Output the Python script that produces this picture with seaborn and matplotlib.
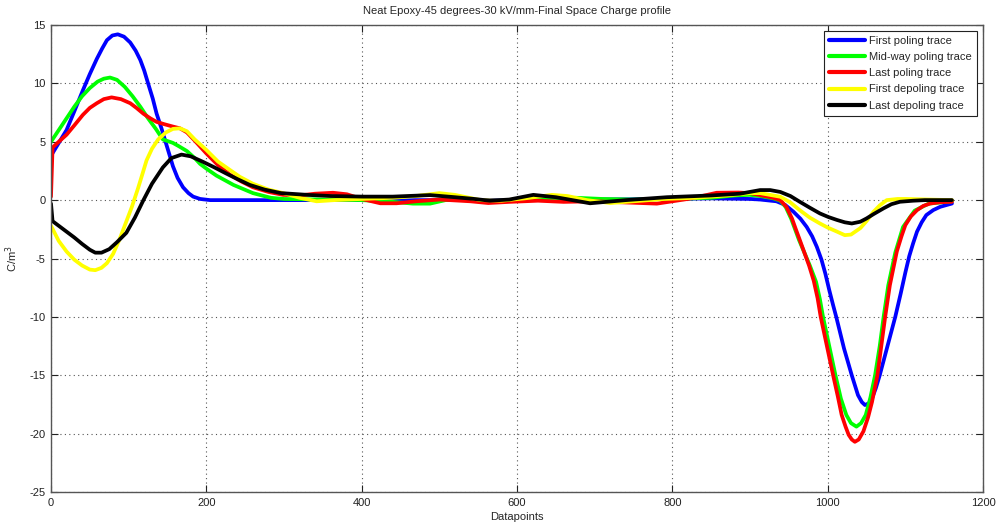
import matplotlib
matplotlib.use("Agg")
import matplotlib.pyplot as plt
import seaborn as sns
import pandas as pd

# Space charge profiles: (datapoint, C/m^3) pairs for each trace
first_poling_x = [0, 10, 20, 30, 41, 50, 59, 66, 72, 79, 86, 94, 102, 109, 115, 120, 125, 131, 136, 142,
                  147, 152, 157, 163, 170, 177, 183, 192, 205, 250, 300, 400, 500, 600, 700, 800, 850,
                  900, 913, 934, 945, 956, 965, 973, 980, 986, 992, 997, 1002, 1007, 1011, 1021, 1031,
                  1039, 1044, 1048, 1053, 1057, 1062, 1067, 1077, 1087, 1094, 1100, 1105, 1110, 1115,
                  1121, 1127, 1136, 1145, 1160]
first_poling_y = [3.8, 4.9, 6.0, 7.6, 9.4, 10.8, 12.1, 13.0, 13.7, 14.1, 14.2, 14.0, 13.5, 12.8, 12.0, 11.1,
                  10.0, 8.7, 7.4, 6.2, 5.1, 4.0, 2.9, 1.9, 1.1, 0.6, 0.3, 0.1, 0.0, 0.0, 0.0, 0.0, 0.0,
                  0.0, 0.05, 0.1, 0.15, 0.1, 0.05, -0.1, -0.4, -1.0, -1.6, -2.3, -3.1, -4.0, -5.1, -6.3,
                  -7.7, -9.0, -10.0, -12.7, -15.0, -16.7, -17.3, -17.55, -17.4, -17.0, -16.1, -15.0,
                  -12.5, -10.0, -8.0, -6.2, -4.8, -3.7, -2.7, -1.9, -1.28, -0.85, -0.57, -0.29]

midway_poling_x = [0, 10, 20, 30, 40, 50, 60, 68, 76, 85, 95, 105, 115, 125, 135, 144, 157, 165, 175, 185,
                   192, 200, 213, 235, 260, 283, 300, 350, 400, 440, 466, 488, 508, 530, 560, 600, 640,
                   676, 710, 750, 800, 850, 880, 900, 913, 930, 939, 946, 953, 958, 963, 970, 977, 985,
                   990, 994, 1002, 1010, 1017, 1024, 1030, 1037, 1043, 1049, 1055, 1061, 1067, 1072, 1078,
                   1087, 1097, 1112, 1130, 1160]
midway_poling_y = [5.0, 6.0, 7.0, 8.0, 8.9, 9.6, 10.15, 10.4, 10.5, 10.3, 9.7, 8.9, 8.0, 7.0, 6.1, 5.2,
                   4.9, 4.6, 4.2, 3.6, 3.1, 2.7, 2.1, 1.3, 0.6, 0.2, 0.1, 0.05, 0.0, -0.15, -0.3, -0.3,
                   0.0, 0.0, -0.1, 0.0, 0.1, 0.2, 0.1, 0.05, 0.1, 0.2, 0.4, 0.45, 0.35, 0.15, -0.05, -0.6,
                   -1.6, -2.5, -3.4, -4.5, -5.6, -7.0, -8.5, -10.0, -12.5, -15.0, -17.0, -18.4, -19.1,
                   -19.4, -19.1, -18.4, -16.9, -15.0, -12.5, -10.0, -7.3, -4.5, -2.3, -0.9, -0.3, -0.1]

last_poling_x = [0, 2, 10, 20, 30, 41, 50, 59, 68, 78, 90, 102, 110, 119, 128, 136, 146, 157, 166, 175,
                 185, 200, 215, 230, 245, 260, 280, 299, 320, 340, 363, 381, 400, 424, 445, 470, 500,
                 540, 563, 590, 627, 660, 700, 740, 780, 820, 845, 857, 885, 900, 913, 930, 939, 947,
                 954, 959, 964, 970, 976, 982, 987, 991, 999, 1007, 1013, 1018, 1023, 1027, 1031, 1035,
                 1040, 1046, 1052, 1057, 1064, 1069, 1074, 1080, 1089, 1095, 1100, 1107, 1115, 1123,
                 1132, 1145, 1160]
last_poling_y = [0.3, 4.5, 5.0, 5.6, 6.4, 7.3, 7.9, 8.3, 8.65, 8.8, 8.65, 8.3, 7.9, 7.4, 7.0, 6.7, 6.5,
                 6.3, 6.15, 5.8, 5.1, 4.0, 3.0, 2.2, 1.6, 1.1, 0.7, 0.45, 0.4, 0.55, 0.63, 0.5, 0.1,
                 -0.27, -0.27, -0.1, 0.05, -0.1, -0.25, -0.15, -0.05, -0.15, -0.1, -0.2, -0.3, 0.1, 0.45,
                 0.63, 0.65, 0.6, 0.43, 0.2, 0.0, -0.6, -1.57, -2.5, -3.4, -4.5, -5.6, -6.9, -8.4, -10.0,
                 -12.5, -15.0, -16.8, -18.4, -19.4, -20.1, -20.5, -20.7, -20.5, -19.8, -18.6, -17.3,
                 -15.0, -12.5, -10.0, -7.3, -4.4, -3.1, -2.14, -1.4, -0.86, -0.5, -0.29, -0.18, -0.14]

first_depoling_x = [0, 10, 20, 30, 40, 50, 57, 65, 72, 80, 88, 96, 104, 112, 118, 123, 130, 138, 148, 157,
                    166, 175, 185, 200, 215, 230, 243, 260, 280, 299, 320, 342, 365, 400, 440, 470, 500,
                    520, 553, 580, 610, 645, 665, 690, 720, 750, 790, 830, 870, 900, 913, 939, 952, 964,
                    977, 990, 1000, 1012, 1022, 1030, 1042, 1050, 1059, 1067, 1076, 1090, 1101, 1130, 1160]
first_depoling_y = [-2.2, -3.5, -4.4, -5.1, -5.6, -5.95, -6.0, -5.8, -5.4, -4.6, -3.4, -2.0, -0.6, 1.0,
                    2.3, 3.4, 4.4, 5.2, 5.8, 6.1, 6.15, 5.9, 5.2, 4.3, 3.3, 2.6, 2.0, 1.4, 0.9, 0.6, 0.2,
                    -0.1, 0.0, 0.1, 0.2, 0.35, 0.6, 0.45, 0.0, -0.05, 0.15, 0.45, 0.35, 0.0, -0.25, -0.1,
                    0.1, 0.2, 0.4, 0.6, 0.6, 0.29, -0.2, -0.86, -1.5, -2.0, -2.35, -2.7, -3.0, -2.95, -2.4,
                    -1.8, -1.0, -0.45, 0.0, 0.1, 0.1, 0.05, 0.0]

last_depoling_x = [0, 2, 10, 20, 30, 40, 50, 57, 65, 75, 85, 97, 108, 119, 130, 144, 155, 168, 180, 195,
                   209, 225, 240, 256, 275, 296, 330, 360, 402, 440, 488, 520, 545, 565, 590, 621, 650,
                   694, 740, 793, 850, 887, 913, 926, 939, 952, 964, 977, 990, 1001, 1012, 1022, 1031,
                   1042, 1050, 1059, 1072, 1082, 1093, 1110, 1125, 1160]
last_depoling_y = [-0.3, -1.8, -2.2, -2.7, -3.2, -3.75, -4.25, -4.5, -4.5, -4.2, -3.6, -2.8, -1.5, 0.0,
                   1.4, 2.8, 3.6, 3.9, 3.75, 3.3, 2.85, 2.3, 1.8, 1.3, 0.9, 0.6, 0.45, 0.35, 0.3, 0.3,
                   0.43, 0.25, 0.1, -0.05, 0.05, 0.45, 0.25, -0.27, 0.0, 0.25, 0.4, 0.55, 0.86, 0.86, 0.7,
                   0.35, -0.14, -0.65, -1.14, -1.45, -1.7, -1.9, -2.0, -1.85, -1.57, -1.2, -0.7, -0.35,
                   -0.14, -0.05, 0.0, 0.0]

trace_names = ["First poling trace", "Mid-way poling trace", "Last poling trace",
               "First depoling trace", "Last depoling trace"]
trace_colors = ["#0000ff", "#00ff00", "#ff0000", "#ffff00", "#000000"]

series = [(first_poling_x, first_poling_y), (midway_poling_x, midway_poling_y),
          (last_poling_x, last_poling_y), (first_depoling_x, first_depoling_y),
          (last_depoling_x, last_depoling_y)]

frames = []
for name, (xs, ys) in zip(trace_names, series):
    frames.append(pd.DataFrame({"Datapoints": xs, "charge": ys, "trace": name}))
df = pd.concat(frames, ignore_index=True)

sns.set_style("white")
plt.rcParams["font.family"] = ["Liberation Sans", "DejaVu Sans"]
plt.rcParams["axes.unicode_minus"] = False

fig = plt.figure(figsize=(9.98, 5.26), dpi=100)
ax = fig.add_axes([0.0511, 0.0646, 0.9339, 0.8879])

sns.lineplot(data=df, x="Datapoints", y="charge", hue="trace", hue_order=trace_names,
             palette=trace_colors, sort=False, estimator=None, linewidth=2.7, ax=ax)

ax.set_xlim(0, 1200)
ax.set_ylim(-25, 15)
ax.set_xticks(range(0, 1201, 200))
ax.set_yticks(range(-25, 16, 5))
ax.grid(True, linestyle=(0, (1, 3)), color="#555555", linewidth=0.8)
ax.tick_params(direction="in", length=5, labelsize=8, colors="#222222",
               top=True, right=True, bottom=True, left=True, pad=4)
for side in ax.spines.values():
    side.set_visible(True)
    side.set_color("#555555")
    side.set_linewidth(1.0)

ax.set_title("Neat Epoxy-45 degrees-30 kV/mm-Final Space Charge profile", fontsize=8, pad=8)
ax.set_xlabel("Datapoints", fontsize=8, labelpad=3)
ax.set_ylabel("C/m$^3$", fontsize=8, labelpad=7)

leg = ax.legend(loc="upper right", fontsize=8, frameon=True, fancybox=False,
                handlelength=3.2, handletextpad=0.4, borderpad=0.45, labelspacing=0.55,
                borderaxespad=0.55)
leg.get_frame().set_edgecolor("#222222")
leg.get_frame().set_linewidth(0.8)
leg.get_frame().set_alpha(1.0)
for line in leg.get_lines():
    line.set_linewidth(3)

fig.savefig("out.png", dpi=100)
